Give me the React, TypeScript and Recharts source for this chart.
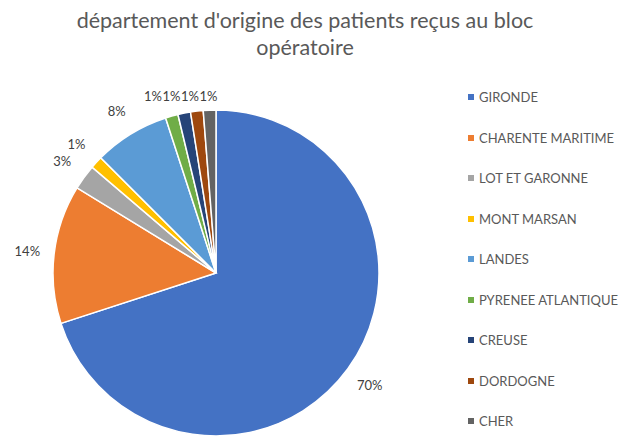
import { PieChart, Pie, Cell, Legend } from "recharts";

const departments = [
  "GIRONDE",
  "CHARENTE MARITIME",
  "LOT ET GARONNE",
  "MONT MARSAN",
  "LANDES",
  "PYRENEE ATLANTIQUE",
  "CREUSE",
  "DORDOGNE",
  "CHER",
];

const patients = [56, 11, 2, 1, 6, 1, 1, 1, 1];

const colors = [
  "#4472C4",
  "#ED7D31",
  "#A5A5A5",
  "#FFC000",
  "#5B9BD5",
  "#70AD47",
  "#264478",
  "#9E480E",
  "#636363",
];

const data = departments.map((name, i) => ({ name, value: patients[i] }));

const RAD = Math.PI / 180;
const FONT = "Lato, 'Open Sans', sans-serif";

// label spots around the pie, pushed apart when they collide (like Excel does)
function labelSpots(cx: number, cy: number, R: number) {
  const total = patients.reduce((a, b) => a + b, 0);
  let acc = 0;
  const spots = patients.map((v) => {
    const mid = ((acc + v / 2) / total) * 360;
    acc += v;
    const r = R + 27;
    const x = cx + r * Math.sin(mid * RAD);
    const y = Math.max(cy - r * Math.cos(mid * RAD), cy - R - 14);
    return { x, y };
  });
  for (let i = spots.length - 2; i >= 0; i--) {
    const next = spots[i + 1];
    if (Math.abs(spots[i].y - next.y) < 14 && spots[i].x > next.x - 18.5) {
      spots[i].x = next.x - 18.5;
    }
  }
  return spots;
}

function renderLabel(props: any) {
  const { cx, cy, outerRadius, percent, index } = props;
  const spot = labelSpots(cx, cy, outerRadius)[index];
  return (
    <text
      x={spot.x}
      y={spot.y}
      fill="#404040"
      fontSize={13}
      fontFamily={FONT}
      textAnchor="middle"
      dominantBaseline="central"
    >
      {`${Math.round(percent * 100)}%`}
    </text>
  );
}

function LegendList() {
  return (
    <div>
      {departments.map((name, i) => (
        <div key={name} style={legendRow}>
          <span style={{ ...legendMark, background: colors[i] }} />
          <span>{name}</span>
        </div>
      ))}
    </div>
  );
}

export default function App() {
  return (
    <div style={page}>
      <div style={title}>
        département d'origine des patients reçus au bloc
        <br />
        opératoire
      </div>
      <PieChart
        width={620}
        height={437}
        margin={{ top: 0, right: 0, bottom: 0, left: 0 }}
        style={{ position: "absolute", left: 0, top: 0 }}
      >
        <Pie
          data={data}
          dataKey="value"
          nameKey="name"
          cx={216}
          cy={273}
          outerRadius={163}
          startAngle={90}
          endAngle={-270}
          stroke="#ffffff"
          strokeWidth={1.5}
          label={renderLabel}
          labelLine={false}
          isAnimationActive={false}
        >
          {data.map((entry, index) => (
            <Cell key={`cell-${index}`} fill={colors[index]} />
          ))}
        </Pie>
        <Legend
          layout="vertical"
          align="right"
          verticalAlign="top"
          content={() => <LegendList />}
          wrapperStyle={{ position: "absolute", left: 468, top: 77, width: 152 }}
        />
      </PieChart>
    </div>
  );
}

const page: React.CSSProperties = {
  position: "absolute",
  left: 0,
  top: 0,
  width: 620,
  height: 437,
  background: "#ffffff",
  overflow: "hidden",
};

const title: React.CSSProperties = {
  position: "absolute",
  left: 0,
  top: 7,
  width: 610,
  textAlign: "center",
  fontFamily: FONT,
  fontSize: 21.5,
  lineHeight: "27px",
  color: "#595959",
  zIndex: 1,
};

const legendRow: React.CSSProperties = {
  display: "flex",
  alignItems: "center",
  height: 40.5,
  fontFamily: FONT,
  fontSize: 13,
  color: "#595959",
  whiteSpace: "nowrap",
};

const legendMark: React.CSSProperties = {
  display: "inline-block",
  width: 6,
  height: 6,
  marginRight: 5,
};
